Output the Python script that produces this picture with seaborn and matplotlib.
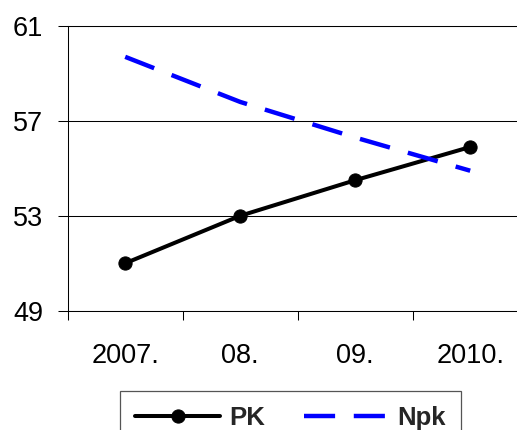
import matplotlib
matplotlib.use("Agg")
import matplotlib.pyplot as plt
import seaborn as sns
import pandas as pd
from matplotlib.ticker import FixedLocator

# Series values per year
years = ["2007.", "08.", "09.", "2010."]
pk = [51.0, 53.0, 54.5, 55.9]
npk = [59.7, 57.8, 56.3, 54.9]
y_ticks = [49, 53, 57, 61]

sns.set_style("white")
plt.rcParams["font.family"] = ["Liberation Sans", "DejaVu Sans"]

W, H = 517, 430
fig = plt.figure(figsize=(W / 100, H / 100), dpi=100)
ax = fig.add_axes([67.7 / W, 1 - 310.7 / H, 460 / W, 284.7 / H])

df_pk = pd.DataFrame({"year": years, "value": pk})
df_npk = pd.DataFrame({"year": years, "value": npk})

sns.lineplot(data=df_pk, x="year", y="value", ax=ax, color="black", lw=2.9,
             marker="o", markersize=9.5, markeredgecolor="black",
             markerfacecolor="black", label="PK", sort=False)
sns.lineplot(data=df_npk, x="year", y="value", ax=ax, color="#0000FF", lw=3.2,
             linestyle=(0, (7, 4.2)), label="Npk", sort=False)

ax.set_xlim(-0.5, 3.5)
ax.set_ylim(49, 61)
ax.set_yticks(y_ticks)
ax.set_xticks(range(len(years)))
ax.set_xticklabels(years)
ax.xaxis.set_minor_locator(FixedLocator([-0.5, 0.5, 1.5, 2.5, 3.5]))
ax.set_xlabel("")
ax.set_ylabel("")

ax.yaxis.grid(True, color="black", lw=0.75)
ax.xaxis.grid(False)
ax.set_axisbelow(True)

for side in ["left", "bottom", "top"]:
    ax.spines[side].set_visible(True)
    ax.spines[side].set_color("black")
    ax.spines[side].set_linewidth(0.75)
ax.spines["right"].set_visible(False)

ax.tick_params(axis="y", which="major", left=True, direction="out", length=7.2,
               width=0.75, color="black", pad=10.6, labelsize=19.5, labelcolor="black")
ax.tick_params(axis="x", which="major", bottom=True, length=0, pad=23,
               labelsize=19.5, labelcolor="black")
ax.tick_params(axis="x", which="minor", bottom=True, direction="out", length=6.5,
               width=0.75, color="black")

leg = ax.legend(loc="upper left", bbox_to_anchor=(120 / W, 1 - 390.7 / H),
                bbox_transform=fig.transFigure, ncol=2, frameon=True,
                fancybox=False, borderaxespad=0, handlelength=3.3,
                handletextpad=0.35, columnspacing=1.5, borderpad=0.6,
                prop={"weight": "bold", "size": 18.5})
leg.get_frame().set_edgecolor("#555555")
leg.get_frame().set_linewidth(0.9)
leg.get_frame().set_alpha(1)

fig.savefig("out.png", dpi=100)
